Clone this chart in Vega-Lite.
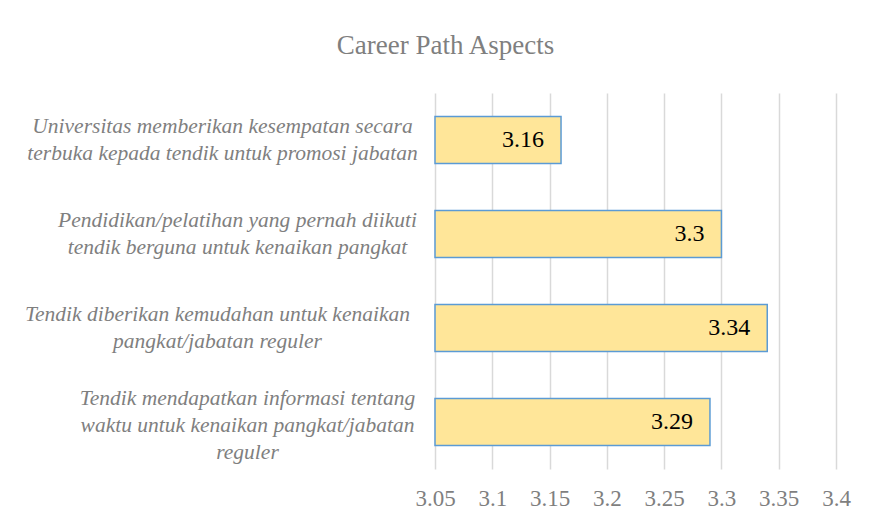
{
  "$schema": "https://vega.github.io/schema/vega-lite/v6.json",
  "autosize": "none",
  "width": 401,
  "height": 376,
  "padding": {"left": 435, "top": 93, "right": 34, "bottom": 57},
  "background": "white",
  "title": {
    "text": "Career Path Aspects",
    "font": "Liberation Serif",
    "fontSize": 27,
    "fontWeight": "normal",
    "color": "#7f7f7f",
    "anchor": "middle",
    "dx": -190,
    "offset": 33
  },
  "data": {
    "values": [
      {"aspect": "Universitas memberikan kesempatan secara\nterbuka kepada tendik untuk promosi jabatan", "score": 3.16},
      {"aspect": "Pendidikan/pelatihan yang pernah diikuti\ntendik berguna untuk kenaikan pangkat", "score": 3.3},
      {"aspect": "Tendik diberikan kemudahan untuk kenaikan\npangkat/jabatan reguler", "score": 3.34},
      {"aspect": "Tendik mendapatkan informasi tentang\nwaktu untuk kenaikan pangkat/jabatan\nreguler", "score": 3.29}
    ]
  },
  "encoding": {
    "y": {
      "field": "aspect",
      "type": "nominal",
      "sort": null,
      "scale": {"paddingInner": 0.5, "paddingOuter": 0.25},
      "axis": {
        "title": null,
        "domain": false,
        "ticks": false,
        "labelExpr": "split(datum.label, '\\n')",
        "labelFont": "Liberation Serif",
        "labelFontStyle": "italic",
        "labelFontSize": 21.5,
        "labelColor": "#7f7f7f",
        "labelLineHeight": 27,
        "labelAlign": "center",
        "labelBaseline": "middle",
        "labelLimit": 0,
        "labelOffset": {
          "condition": {"test": "length(split(datum.value, '\\n')) > 2", "value": -23},
          "value": -13
        },
        "labelPadding": {
          "condition": [
            {"test": "indexof(datum.value, 'Universitas') == 0", "value": 213},
            {"test": "indexof(datum.value, 'Pendidikan') == 0", "value": 198},
            {"test": "indexof(datum.value, 'Tendik diberikan') == 0", "value": 218}
          ],
          "value": 188
        }
      }
    },
    "x": {
      "field": "score",
      "type": "quantitative",
      "scale": {"domain": [3.05, 3.4], "nice": false, "zero": false},
      "axis": {
        "title": null,
        "values": [3.05, 3.1, 3.15, 3.2, 3.25, 3.3, 3.35, 3.4],
        "format": "~g",
        "domain": false,
        "ticks": false,
        "grid": true,
        "gridColor": "#d9d9d9",
        "gridWidth": 1.5,
        "labelFont": "Liberation Serif",
        "labelFontSize": 23,
        "labelColor": "#7f7f7f",
        "labelPadding": 18,
        "labelFlush": false
      }
    }
  },
  "layer": [
    {
      "mark": {"type": "bar", "fill": "#ffe699", "stroke": "#5b9bd5", "strokeWidth": 1.5},
      "encoding": {"x2": {"datum": 3.05}}
    },
    {
      "mark": {"type": "text", "align": "right", "baseline": "middle", "dx": -17, "font": "Liberation Serif", "fontSize": 24, "color": "#000000"},
      "encoding": {"text": {"field": "score", "type": "quantitative", "format": "~g"}}
    }
  ],
  "config": {"view": {"stroke": null}}
}
